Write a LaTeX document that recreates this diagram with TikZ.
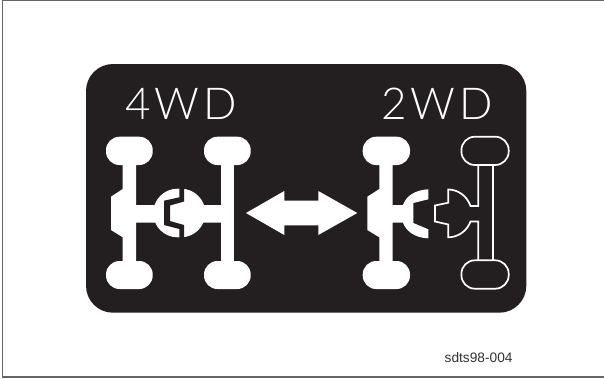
\documentclass[tikz,border=0pt]{standalone}
\usepackage{fontspec}
\setmainfont{Liberation Sans}
\newfontfamily\lightf[LetterSpace=9]{Lato Light}
\definecolor{ink}{HTML}{231F20}
\tikzset{
  outl/.style={draw=white,line width=1.7pt,line join=miter},
  wheelw/.style={fill=white,rounded corners=13.5pt},
  wheelo/.style={draw=white,line width=1.7pt,rounded corners=13.5pt},
  modetext/.style={text=white,font=\lightf\fontsize{44}{44}\selectfont,inner sep=0pt},
}
\begin{document}
\begin{tikzpicture}[x=1pt,y=-1pt]
\useasboundingbox (0,0) rectangle (604,378);
\fill[white] (0,0) rectangle (604,378);
\draw[draw=black!60,line width=1.3pt] (604,0.7) -- (2.7,0.7) -- (2.7,377) -- (604,377);
\fill[ink,rounded corners=27pt] (86,64) rectangle (526.3,312.7);
\node[modetext,anchor=base west] (fourwd) at (125,119) {4WD};
\node[modetext,anchor=base west] (twowd) at (381,119) {2WD};
% 4WD axles
\fill[wheelw] (106,136.7) rectangle (152.7,165);
\fill[wheelw] (106,261) rectangle (152.7,289);
\fill[wheelw] (204,136.7) rectangle (250.7,165);
\fill[wheelw] (204,261) rectangle (250.7,289);
\fill[white] (122.7,160) -- (136,160) -- (136,205) -- (225,205) -- (225,222.7) -- (136,222.7) -- (136,266) -- (122.7,266)
  -- (122.7,237.3) -- (111,230) -- (111,196.7) -- (122.7,189) -- cycle;
\fill[white] (221,160) rectangle (234.3,266);
% coupling
\fill[white] (177.5,213) circle (24.3);
\fill[white] (181,213) circle (24.3);
\fill[ink] (179.3,185) -- (179.3,197.3) -- (164,200.7) -- (164,225) -- (179.3,229) -- (179.3,240)
  -- (184,240) -- (184,225) -- (170,221) -- (170,205.5) -- (184,201.5) -- (184,185) -- cycle;
% arrow
\fill[white] (246,213) -- (284.3,191) -- (284.3,200.7) -- (318.3,200.7) -- (318.3,191) -- (357.3,213)
  -- (318.3,235) -- (318.3,225.3) -- (284.3,225.3) -- (284.3,235) -- cycle;
% 2WD front
\fill[wheelw] (362.7,136.7) rectangle (410,165);
\fill[wheelw] (362.7,261) rectangle (410,289);
\fill[white] (379.3,160) -- (392.7,160) -- (392.7,205) -- (403,205)
  .. controls (406,196) and (415,190) .. (428.3,189.3) -- (428.3,199.3) -- (413.3,203) -- (413.3,223) -- (428.3,229.3) -- (428.3,238.3)
  .. controls (415,238) and (406,231) .. (403,222.7) -- (392.7,222.7) -- (392.7,266) -- (379.3,266)
  -- (379.3,237.3) -- (367.3,230) -- (367.3,196.7) -- (379.3,189) -- cycle;
% 2WD rear outline
\draw[wheelo] (461.4,136.7) rectangle (508.7,165);
\draw[wheelo] (461.4,260.3) rectangle (508.7,288.7);
\draw[outl] (492.7,165) -- (492.7,260.3);
\draw[outl] (478.3,165) -- (478.3,206) -- (470.5,206)
  .. controls (467,196) and (458,189.5) .. (448.3,189.5) -- (448.3,202.7) -- (435,205.5) -- (435,221.5) -- (448.3,224.5) -- (448.3,237.3)
  .. controls (458,237.3) and (467,231) .. (470.5,221.5) -- (478.3,221.5) -- (478.3,260.3);
\node[anchor=base east,inner sep=0pt,text=black!80,font=\fontsize{13.7}{13.7}\selectfont] (code) at (512.7,362.5) {sdts98-004};
\end{tikzpicture}
\end{document}
